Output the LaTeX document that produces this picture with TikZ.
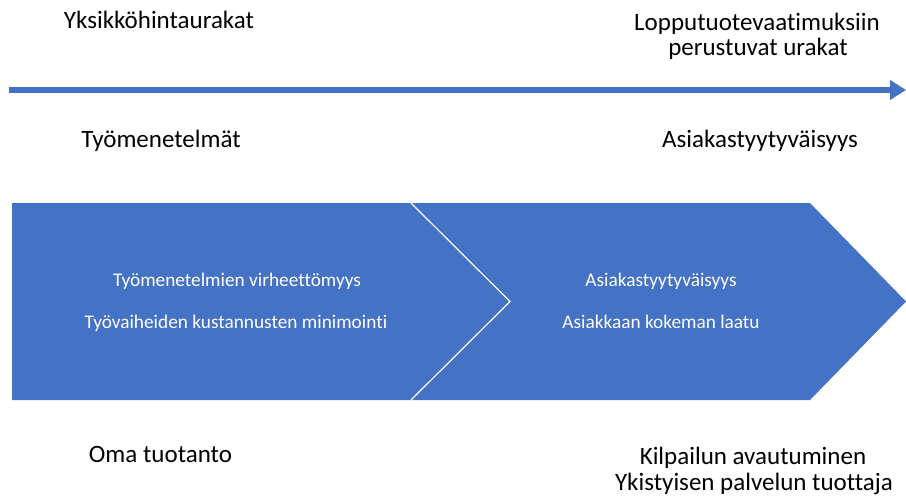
\documentclass[tikz,border=0pt]{standalone}
\usepackage{fontspec}
\setmainfont[Ligatures=NoCommon]{Carlito}
\usetikzlibrary{arrows.meta}
\definecolor{officeblue}{HTML}{4472C4}
\begin{document}
\begin{tikzpicture}[x=1pt,y=-1pt,
  heading/.style={anchor=base,inner sep=0pt,font=\fontsize{25}{30}\selectfont,text=black},
  inner/.style={anchor=base,inner sep=0pt,font=\fontsize{19.3}{23}\selectfont,text=white},
  band/.style={fill=officeblue,draw=white,line width=1.2pt,line join=miter}]
\useasboundingbox (0,0) rectangle (906,498);

% timeline axis
\coordinate (axisL) at (9,90);
\coordinate (axisR) at (906,90);
\draw[officeblue,line width=6pt,-{Triangle[length=16pt,width=19pt]}] (axisL) -- (axisR);

% headings above and below the axis
\node[heading] (unit) at (159,28) {Yksikköhintaurakat};
\node[heading] (endreq1) at (757,30) {Lopputuotevaatimuksiin};
\node[heading] (endreq2) at (758,55) {perustuvat urakat};
\node[heading] (methods) at (161,147) {Työmenetelmät};
\node[heading] (satisf) at (760,147) {Asiakastyytyväisyys};

% process bands
\fill[officeblue] (12,203) -- (411,203) -- (510,301.5) -- (411,400) -- (12,400) -- cycle;
\fill[officeblue] (411,203) -- (810,203) -- (906,301.5) -- (810,400) -- (411,400) -- (510,301.5) -- cycle;
\draw[white,line width=1.2pt] (411,203) -- (510,301.5) -- (411,400);

\node[inner] (b1a) at (237,286) {Työmenetelmien virheettömyys};
\node[inner] (b1b) at (236,328) {Työvaiheiden kustannusten minimointi};
\node[inner] (b2a) at (661,286) {Asiakastyytyväisyys};
\node[inner] (b2b) at (661,328) {Asiakkaan kokeman laatu};

% headings at the bottom
\node[heading] (own) at (160.5,462) {Oma tuotanto};
\node[heading] (comp1) at (753,464) {Kilpailun avautuminen};
\node[heading] (comp2) at (754,490) {Ykistyisen palvelun tuottaja};
\end{tikzpicture}
\end{document}
